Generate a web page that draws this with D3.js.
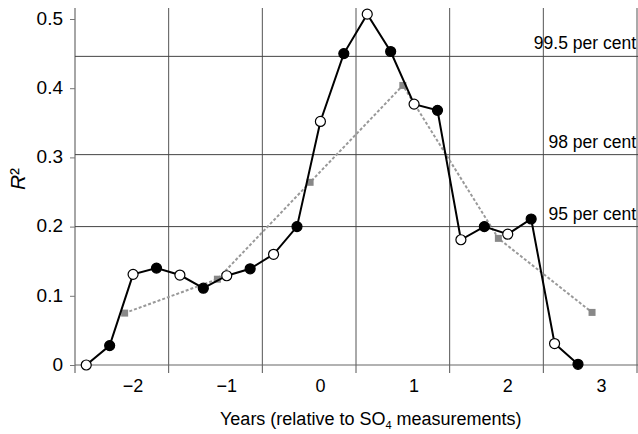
<!DOCTYPE html>
<html>
<head>
<meta charset="utf-8">
<script src="https://cdn.jsdelivr.net/npm/d3@7"></script>
<style>
  body { margin: 0; background: #fff; }
  text { font-family: "Liberation Sans", Arial, sans-serif; fill: #000; }
</style>
</head>
<body>
<div id="chart-container"></div>
<script>
// quarterly R² values, open and filled circles alternate
const years = [-2.5, -2.25, -2, -1.75, -1.5, -1.25, -1, -0.75, -0.5, -0.25, 0, 0.25,
  0.5, 0.75, 1, 1.25, 1.5, 1.75, 2, 2.25, 2.5, 2.75];
const r2Values = [0, 0.028, 0.131, 0.14, 0.13, 0.111, 0.129, 0.139, 0.16, 0.2, 0.352, 0.45,
  0.507, 0.453, 0.377, 0.368, 0.181, 0.2, 0.189, 0.211, 0.031, 0.001];

// annual series (grey squares, dashed)
const annualYears = [-2.09, -1.1, -0.11, 0.88, 1.9, 2.9];
const annualValues = [0.075, 0.124, 0.264, 0.404, 0.183, 0.076];

const thresholds = [0.446, 0.304, 0.2];
const thresholdLabels = ["99.5 per cent", "98 per cent", "95 per cent"];

const xTickValues = [-2, -1, 0, 1, 2, 3];
const xGridValues = [-2.62, -1.62, -0.62, 0.38, 1.38, 2.38, 3.38];
const yTickValues = [0, 0.1, 0.2, 0.3, 0.4, 0.5];

const W = 638, H = 434;
const margin = { top: 8, right: 1, bottom: 69, left: 75 };

const xScale = d3.scaleLinear().domain([-2.62, 3.38]).range([margin.left, W - margin.right]);
const yScale = d3.scaleLinear().domain([0, 0.5]).range([365, 19]);
const yTop = margin.top;
const yBottom = yScale(0);

const svg = d3
  .select("#chart-container")
  .append("svg")
  .attr("width", W)
  .attr("height", H);

// vertical grid lines + bottom tick marks
svg
  .append("g")
  .selectAll("line")
  .data(xGridValues)
  .join("line")
  .attr("x1", (d) => xScale(d))
  .attr("x2", (d) => xScale(d))
  .attr("y1", yTop)
  .attr("y2", yBottom + 8)
  .attr("stroke", (d, i) => (i === 0 ? "#888" : "#555"))
  .attr("stroke-width", (d, i) => (i === 0 ? 1.5 : 1));

// threshold lines
svg
  .append("g")
  .selectAll("line")
  .data(thresholds)
  .join("line")
  .attr("x1", xScale(-2.62))
  .attr("x2", W)
  .attr("y1", (d) => yScale(d))
  .attr("y2", (d) => yScale(d))
  .attr("stroke", "#444")
  .attr("stroke-width", 1);

svg
  .append("g")
  .selectAll("text")
  .data(thresholds)
  .join("text")
  .attr("x", W - 2)
  .attr("y", (d) => yScale(d) - 7)
  .attr("text-anchor", "end")
  .style("font-size", "17.5px")
  .text((d, i) => thresholdLabels[i]);

// y axis
const yAxis = svg
  .append("g")
  .attr("transform", `translate(${margin.left},0)`)
  .call(d3.axisLeft(yScale).tickValues(yTickValues).tickSize(5).tickPadding(7)
    .tickFormat((d) => (d === 0 ? "0" : d3.format(".1f")(d))));
yAxis.select(".domain").remove();
yAxis.selectAll(".tick line").attr("stroke", "#777");
yAxis.selectAll(".tick text").style("font-size", "19px").attr("dy", "0.28em");

// x axis line
svg
  .append("line")
  .attr("x1", margin.left)
  .attr("x2", W)
  .attr("y1", yBottom)
  .attr("y2", yBottom)
  .attr("stroke", "#666")
  .attr("stroke-width", 1.2);

// x tick labels
svg
  .append("g")
  .selectAll("text")
  .data(xTickValues)
  .join("text")
  .attr("x", (d) => xScale(d))
  .attr("y", 392)
  .attr("text-anchor", "middle")
  .style("font-size", "18px")
  .text((d) => (d < 0 ? "\u2212" + Math.abs(d) : d));

// dashed annual series
const line = d3
  .line()
  .x((d) => xScale(d[0]))
  .y((d) => yScale(d[1]));

const annual = annualYears.map((d, i) => [d, annualValues[i]]);
svg
  .append("path")
  .datum(annual)
  .attr("fill", "none")
  .attr("stroke", "#999")
  .attr("stroke-width", 2)
  .attr("stroke-dasharray", "3,2")
  .attr("d", line);

svg
  .append("g")
  .selectAll("rect")
  .data(annual)
  .join("rect")
  .attr("x", (d) => xScale(d[0]) - 3.5)
  .attr("y", (d) => yScale(d[1]) - 3.5)
  .attr("width", 7)
  .attr("height", 7)
  .attr("fill", "#888");

// quarterly series
const quarterly = years.map((d, i) => [d, r2Values[i]]);
svg
  .append("path")
  .datum(quarterly)
  .attr("fill", "none")
  .attr("stroke", "#000")
  .attr("stroke-width", 2)
  .attr("d", line);

svg
  .append("g")
  .selectAll("circle")
  .data(quarterly)
  .join("circle")
  .attr("cx", (d) => xScale(d[0]))
  .attr("cy", (d) => yScale(d[1]))
  .attr("r", 5)
  .attr("fill", (d, i) => (i % 2 === 0 ? "#fff" : "#000"))
  .attr("stroke", "#000")
  .attr("stroke-width", 1.2);

// axis titles
svg
  .append("text")
  .attr("transform", "translate(25,179) rotate(-90)")
  .attr("text-anchor", "middle")
  .style("font-size", "21px")
  .html('<tspan font-style="italic">R</tspan>²');

const xLabel = svg
  .append("text")
  .attr("x", 220)
  .attr("y", 425)
  .style("font-size", "18px");
xLabel.append("tspan").text("Years (relative to SO");
xLabel.append("tspan").attr("dy", 4).style("font-size", "11px").text("4");
xLabel.append("tspan").attr("dy", -4).text(" measurements)");
</script>
</body>
</html>
